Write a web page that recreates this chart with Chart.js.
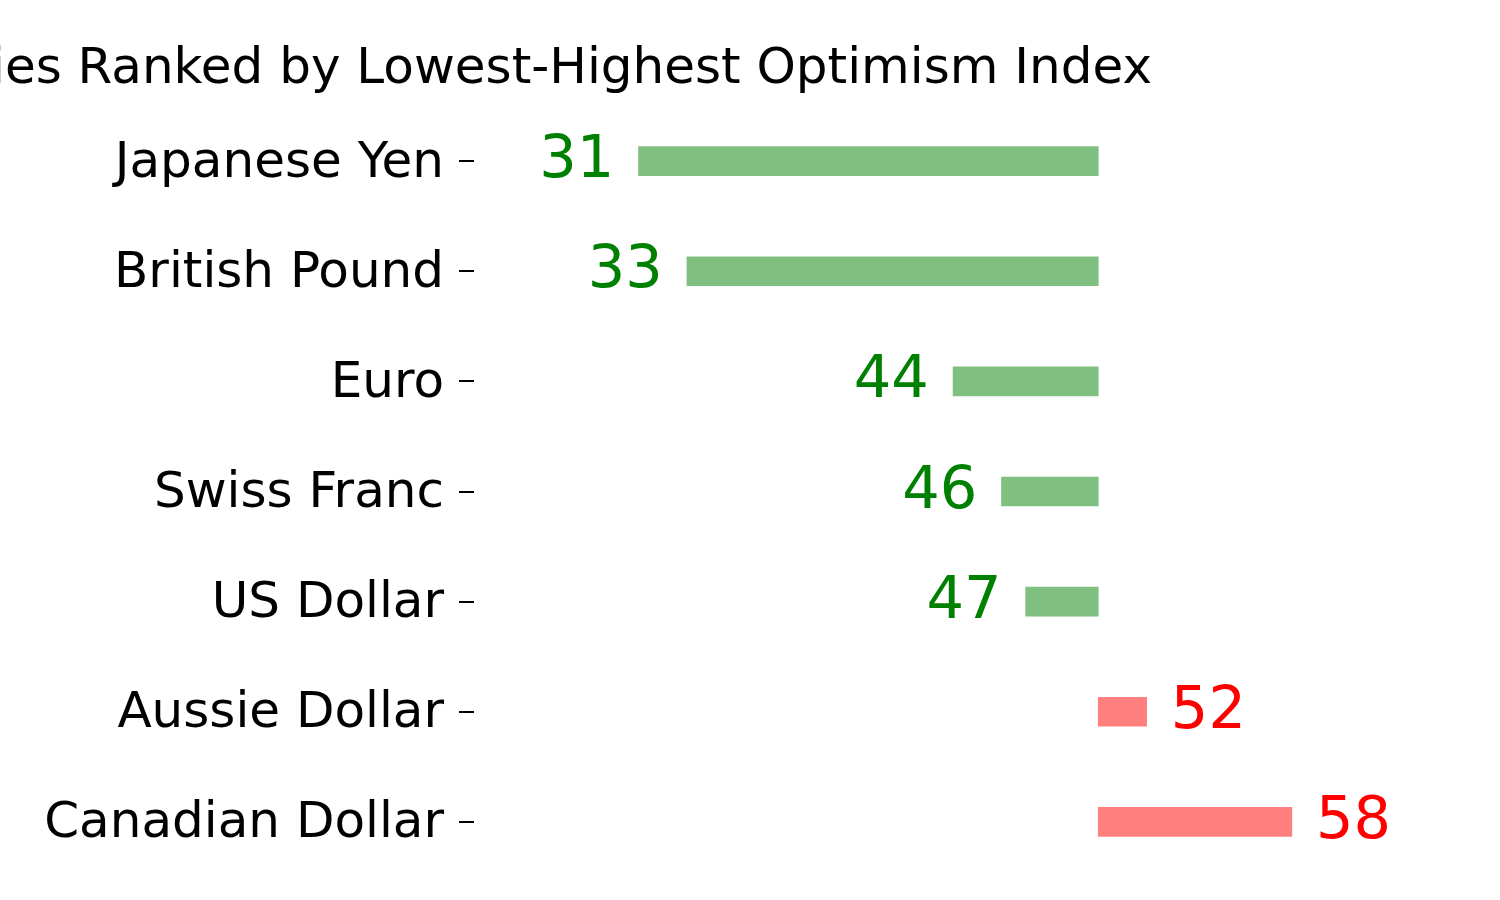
<!DOCTYPE html>
<html>
<head>
<meta charset="utf-8">
<script src="https://cdn.jsdelivr.net/npm/chart.js@4"></script>
<style>
  html, body { margin: 0; padding: 0; background: #fff; }
  #wrap { width: 1500px; height: 900px; }
</style>
</head>
<body>
<div id="wrap"><canvas id="chart" width="1500" height="900"></canvas></div>
<script>
// Optimism index per currency, ranked lowest to highest
const categories = ['Japanese Yen', 'British Pound', 'Euro', 'Swiss Franc', 'US Dollar', 'Aussie Dollar', 'Canadian Dollar'];
const values = [31, 33, 44, 46, 47, 52, 58];
const baseline = 50;
const titleText = 'Currencies Ranked by Lowest-Highest Optimism Index';

const COLORS = {
  greenBar: 'rgba(0,128,0,0.5)',
  redBar: 'rgba(255,0,0,0.5)',
  greenText: '#008000',
  redText: '#ff0000',
};
const FONT = "'DejaVu Sans', sans-serif";

/* ── Title, right part stays in view like the source ── */
const titlePlugin = {
  id: 'titleText',
  afterDraw(chart) {
    const c = chart.ctx;
    c.save();
    c.font = `50px ${FONT}`;
    c.fillStyle = '#000';
    c.textAlign = 'right';
    c.textBaseline = 'alphabetic';
    c.fillText(titleText, 1152, 83);
    c.restore();
  },
};

/* ── Value labels at one unit beyond the bar end ── */
const valueLabels = {
  id: 'valueLabels',
  afterDatasetsDraw(chart) {
    const c = chart.ctx;
    const xs = chart.scales.x;
    const meta = chart.getDatasetMeta(0);
    c.save();
    c.font = `59px ${FONT}`;
    c.textBaseline = 'alphabetic';
    meta.data.forEach((bar, i) => {
      const v = values[i];
      const low = v < baseline;
      c.fillStyle = low ? COLORS.greenText : COLORS.redText;
      c.textAlign = low ? 'right' : 'left';
      c.fillText(String(v), xs.getPixelForValue(low ? v - 1 : v + 1), bar.y + 16);
    });
    c.restore();
  },
};

new Chart(document.getElementById('chart'), {
  type: 'bar',
  data: {
    labels: categories,
    datasets: [{
      data: values.map(v => [v, baseline]),
      backgroundColor: values.map(v => v < baseline ? COLORS.greenBar : COLORS.redBar),
      borderWidth: 0,
      barThickness: 29,
    }],
  },
  options: {
    indexAxis: 'y',
    responsive: false,
    animation: false,
    layout: { padding: { top: 106, bottom: 23, right: 40, left: 0 } },
    plugins: { legend: { display: false }, tooltip: { enabled: false }, title: { display: false } },
    scales: {
      x: { display: false, min: 24.2, max: 64.95 },
      y: {
        offset: true,
        border: { display: false },
        grid: { offset: false, drawOnChartArea: false, drawTicks: true, tickLength: 15, color: '#000', lineWidth: 2 },
        ticks: { color: '#000', padding: 15, labelOffset: 2.5, font: { family: FONT, size: 50 } },
        afterFit(scale) {
          scale.width = 474;
          scale.paddingTop = 0;
          scale.paddingBottom = 0;
        },
      },
    },
  },
  plugins: [titlePlugin, valueLabels],
});
</script>
</body>
</html>
